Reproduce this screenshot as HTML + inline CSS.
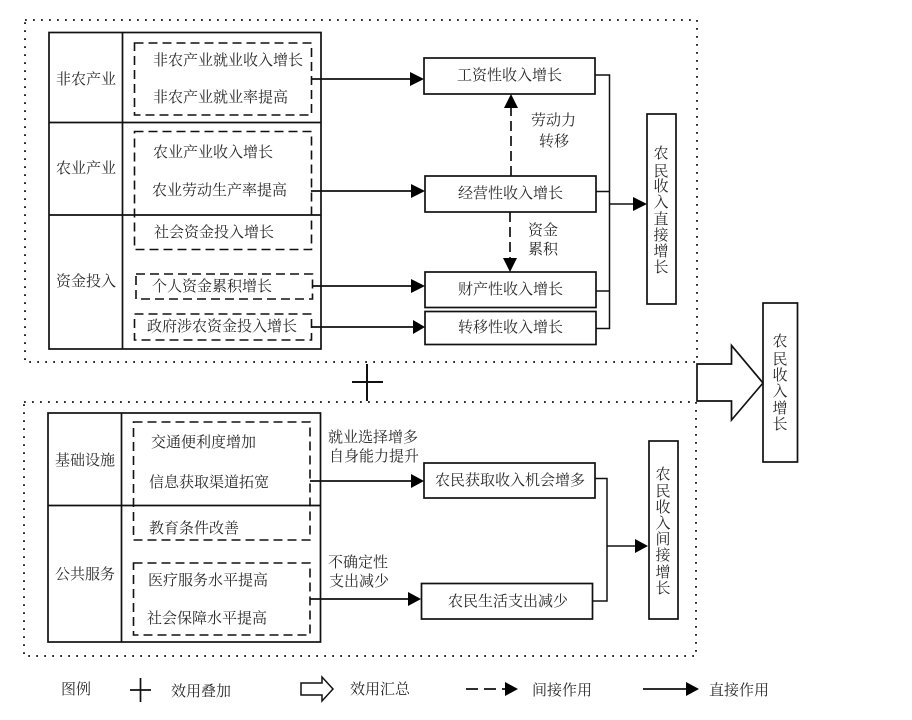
<!DOCTYPE html>
<html><head><meta charset="utf-8"><style>
html,body{margin:0;padding:0;background:#fff}
svg{display:block}
text{font-family:"Liberation Serif","Noto Serif CJK SC",serif;font-size:15px;fill:#2a2a2a}
.s{fill:none;stroke:#111;stroke-width:1.7}
.m{fill:none;stroke:#111;stroke-width:1.5}
.d{fill:none;stroke:#111;stroke-width:1.6;stroke-dasharray:9 5}
.o{fill:none;stroke:#111;stroke-width:1.8;stroke-dasharray:1.8 6.2}
.w{fill:#fff;stroke:#111;stroke-width:1.7}
.h{fill:#000;stroke:none}
.v{text-anchor:middle}
</style></head><body>
<svg width="912" height="720" viewBox="0 0 912 720" xmlns="http://www.w3.org/2000/svg">
<rect class="o" x="25" y="20" width="672" height="342"/>
<rect class="o" x="24" y="402" width="672" height="254"/>

<!-- top table -->
<rect class="s" x="49" y="32.5" width="272" height="316.5"/>
<path class="s" d="M122.5 32.5V349M49 122.5H321M49 215H321"/>
<rect class="d" x="134.5" y="43" width="177" height="72"/>
<rect class="d" x="134.5" y="131.5" width="177" height="118"/>
<rect class="d" x="136" y="274" width="176.5" height="25"/>
<rect class="d" x="134.5" y="314" width="177" height="26"/>
<text x="56" y="84">非农产业</text>
<text x="56" y="173">农业产业</text>
<text x="56" y="286">资金投入</text>
<text x="153" y="65">非农产业就业收入增长</text>
<text x="153" y="102">非农产业就业率提高</text>
<text x="153" y="157">农业产业收入增长</text>
<text x="152" y="195">农业劳动生产率提高</text>
<text x="154" y="237">社会资金投入增长</text>
<text x="152" y="291">个人资金累积增长</text>
<text x="147" y="331">政府涉农资金投入增长</text>

<!-- top middle -->
<rect class="s" x="424" y="58" width="171" height="36"/>
<rect class="s" x="425" y="176" width="171" height="36"/>
<rect class="s" x="425" y="272" width="171" height="35.5"/>
<rect class="s" x="425" y="311.5" width="171" height="33"/>
<text x="457" y="80">工资性收入增长</text>
<text x="458" y="198">经营性收入增长</text>
<text x="458" y="294">财产性收入增长</text>
<text x="458" y="332">转移性收入增长</text>
<path class="s" d="M311 79H412M311 191H413M312 286H413M311 327H414"/>
<path class="h" d="M424 79L410 72V86ZM425 191L411 184V198ZM425 286L411 279V293ZM425 327L413 320V334Z"/>
<path class="s" d="M511 176V106" style="stroke-dasharray:10 5"/>
<path class="h" d="M511 94L504 108H518Z"/>
<path class="s" d="M510 212V260" style="stroke-dasharray:10 5"/>
<path class="h" d="M510 272L503 258H517Z"/>
<text x="531" y="125">劳动力</text>
<text x="539" y="146">转移</text>
<text x="528" y="235">资金</text>
<text x="528" y="254">累积</text>
<path class="m" d="M595 75H609.5V328.5H596M596 191.5H609.5M596 291H609.5"/>
<path class="m" d="M609.5 204H636"/>
<path class="h" d="M647 204L633 197V211Z"/>
<rect class="s" x="647" y="114" width="29" height="190"/>
<g class="v">
<text class="v" x="661" y="158">农</text><text class="v" x="661" y="176">民</text><text class="v" x="661" y="191">收</text><text class="v" x="661" y="207">入</text><text class="v" x="661" y="224">直</text><text class="v" x="661" y="240">接</text><text class="v" x="661" y="256">增</text><text class="v" x="661" y="272">长</text>
</g>

<!-- combine -->
<path d="M367 364V401M352 382H383" fill="none" stroke="#111" stroke-width="2"/>
<path class="w" d="M697 364H731.5V345.5L763 383L731.5 420V401H697Z"/>
<rect class="s" x="763" y="303" width="34.5" height="159"/>
<text class="v" x="780" y="346">农</text><text class="v" x="780" y="364">民</text><text class="v" x="780" y="380">收</text><text class="v" x="780" y="396">入</text><text class="v" x="780" y="413">增</text><text class="v" x="780" y="429">长</text>

<!-- bottom table -->
<rect class="s" x="48" y="413" width="272.5" height="229"/>
<path class="s" d="M121.5 413V642M48 505.5H320.5"/>
<rect class="d" x="133.5" y="422" width="176.5" height="118"/>
<rect class="d" x="133.5" y="563" width="176.5" height="72"/>
<text x="55" y="465">基础设施</text>
<text x="55" y="579">公共服务</text>
<text x="151" y="447">交通便利度增加</text>
<text x="149" y="487">信息获取渠道拓宽</text>
<text x="149" y="533">教育条件改善</text>
<text x="148" y="585">医疗服务水平提高</text>
<text x="147" y="623">社会保障水平提高</text>
<text x="328" y="442">就业选择增多</text>
<text x="329" y="461">自身能力提升</text>
<text x="328" y="567">不确定性</text>
<text x="329" y="586">支出减少</text>
<rect class="s" x="424" y="463" width="171" height="35"/>
<rect class="s" x="421.5" y="583.5" width="171" height="35.5"/>
<text x="435" y="485">农民获取收入机会增多</text>
<text x="448" y="606">农民生活支出减少</text>
<path class="s" d="M310 481H412M310 599H409"/>
<path class="h" d="M424 481L411 474V488ZM421 599L408 592V606Z"/>
<path class="m" d="M595 478.5H607V601H592.5M607 546H637"/>
<path class="h" d="M648 546L635 539V553Z"/>
<rect class="s" x="649" y="441" width="29" height="178"/>
<text class="v" x="663" y="479">农</text><text class="v" x="663" y="496">民</text><text class="v" x="663" y="512">收</text><text class="v" x="663" y="528">入</text><text class="v" x="663" y="544">间</text><text class="v" x="663" y="560">接</text><text class="v" x="663" y="577">增</text><text class="v" x="663" y="593">长</text>

<!-- legend -->
<text x="61" y="694">图例</text>
<path class="s" d="M140.5 678V702M130 690H151"/>
<text x="171" y="696">效用叠加</text>
<path class="m" d="M301 683H322V677L333 689L322 701V695H301Z"/>
<text x="350" y="694">效用汇总</text>
<path class="s" d="M466 689H478M484 689H496M502 689H508"/>
<path class="h" d="M518 689L505 682V696Z"/>
<text x="532" y="695">间接作用</text>
<path class="s" d="M643 689H690"/>
<path class="h" d="M699 689L686 682V696Z"/>
<text x="709" y="695">直接作用</text>
</svg>
</body></html>
